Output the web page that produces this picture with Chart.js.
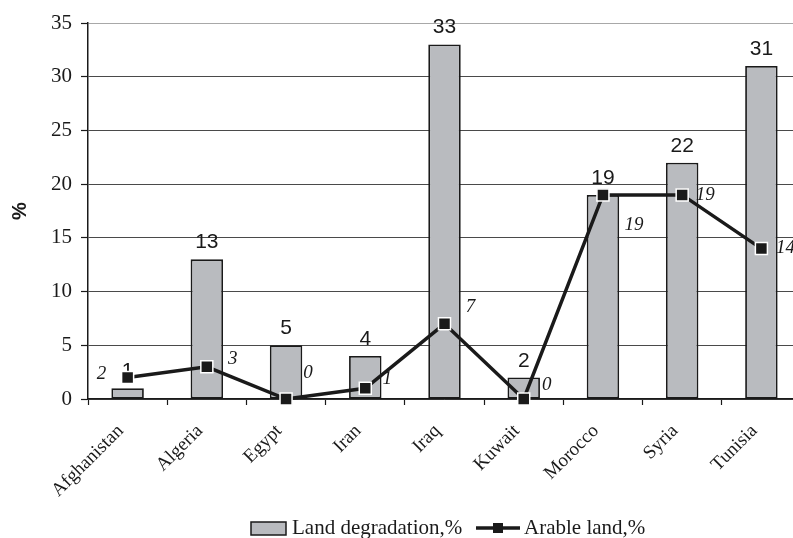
<!DOCTYPE html>
<html>
<head>
<meta charset="utf-8">
<script src="https://cdn.jsdelivr.net/npm/chart.js@4/dist/chart.umd.min.js"></script>
<style>
  html, body { margin: 0; padding: 0; background: #fff; overflow: hidden; }
  #wrap { width: 811px; height: 538px; }
</style>
</head>
<body>
<div id="wrap"><canvas id="c" width="811" height="538"></canvas></div>
<script>
const categories = ['Afghanistan', 'Algeria', 'Egypt', 'Iran', 'Iraq', 'Kuwait', 'Morocco', 'Syria', 'Tunisia'];
const landDegradation = [1, 13, 5, 4, 33, 2, 19, 22, 31];
const arableLand = [2, 3, 0, 1, 7, 0, 19, 19, 14];
const yTicks = [0, 5, 10, 15, 20, 25, 30, 35];
const seriesNames = ['Land degradation,%', 'Arable land,%'];

// label placement offsets (pixels) for the line-series value labels
const lineLabelOffsets = [[-26, -4], [26, -8], [22, -26], [22, -9], [26, -17], [23, -14], [31, 30], [23, 0], [24, -1]];

const SERIF = '"Liberation Serif", "Times New Roman", serif';
const SANS = '"Liberation Sans", Arial, sans-serif';
const BAR_FILL = '#b9bbbf';
const INK = '#1a1a1a';

const labelPlugin = {
  id: 'valueLabels',
  afterDatasetDraw(chart, args) {
    const ds = chart.data.datasets[args.index];
    if (ds.type !== 'bar') return;
    const ctx = chart.ctx;
    ctx.save();
    ctx.font = '21px ' + SANS;
    ctx.fillStyle = INK;
    ctx.textAlign = 'center';
    ctx.textBaseline = 'alphabetic';
    args.meta.data.forEach((el, i) => {
      ctx.fillText(String(ds.data[i]), el.x, el.y - 11);
    });
    ctx.restore();
  },
  afterDatasetsDraw(chart) {
    const ctx = chart.ctx;
    chart.data.datasets.forEach((ds, di) => {
      if (ds.type !== 'line') return;
      const meta = chart.getDatasetMeta(di);
      ctx.save();
      ctx.font = 'italic 19px ' + SERIF;
      ctx.fillStyle = INK;
      ctx.textAlign = 'center';
      ctx.textBaseline = 'middle';
      meta.data.forEach((el, i) => {
        const off = lineLabelOffsets[i];
        ctx.fillText(String(ds.data[i]), el.x + off[0], el.y + off[1]);
      });
      ctx.restore();
    });
  },
  afterDraw(chart) {
    const ctx = chart.ctx;
    const cy = 528;
    ctx.save();
    ctx.fillStyle = BAR_FILL;
    ctx.strokeStyle = INK;
    ctx.lineWidth = 1.5;
    ctx.fillRect(251, 522, 35, 13);
    ctx.strokeRect(251, 522, 35, 13);
    ctx.font = '21px ' + SERIF;
    ctx.fillStyle = INK;
    ctx.textAlign = 'left';
    ctx.textBaseline = 'middle';
    ctx.fillText(seriesNames[0], 292, cy);
    ctx.strokeStyle = INK;
    ctx.lineWidth = 3.5;
    ctx.beginPath();
    ctx.moveTo(476, cy);
    ctx.lineTo(520, cy);
    ctx.stroke();
    ctx.fillStyle = INK;
    ctx.fillRect(493, cy - 5, 10, 10);
    ctx.fillText(seriesNames[1], 524, cy);
    ctx.restore();
  }
};

new Chart(document.getElementById('c'), {
  data: {
    labels: categories,
    datasets: [
      {
        type: 'line',
        label: seriesNames[1],
        data: arableLand,
        order: 0,
        borderColor: INK,
        borderWidth: 3.5,
        pointStyle: 'rect',
        pointRadius: 8.5,
        pointBackgroundColor: INK,
        pointBorderColor: '#ffffff',
        pointBorderWidth: 1.5,
        tension: 0,
        clip: false
      },
      {
        type: 'bar',
        label: seriesNames[0],
        data: landDegradation,
        order: 1,
        backgroundColor: BAR_FILL,
        borderColor: INK,
        borderWidth: 1.8,
        borderSkipped: false,
        barPercentage: 0.41,
        categoryPercentage: 1.0
      }
    ]
  },
  options: {
    responsive: false,
    animation: false,
    devicePixelRatio: 1,
    layout: { padding: { top: 23, right: 0, bottom: 0, left: 0 } },
    plugins: {
      legend: { display: false },
      tooltip: { enabled: false }
    },
    scales: {
      x: {
        offset: true,
        afterFit(scale) { scale.height = 139; },
        grid: {
          offset: true,
          drawOnChartArea: false,
          drawTicks: true,
          tickLength: 6,
          tickColor: INK,
          tickWidth: 1.2
        },
        border: { display: true, color: INK, width: 1.5 },
        ticks: {
          minRotation: 45,
          maxRotation: 45,
          autoSkip: false,
          padding: 15,
          labelOffset: -7,
          color: INK,
          font: { family: SERIF, size: 19 }
        }
      },
      y: {
        min: 0,
        max: 35,
        afterFit(scale) { scale.width = 88; },
        afterBuildTicks(scale) { scale.ticks = yTicks.map(v => ({ value: v })); },
        grid: {
          color: (c) => (c.tick && c.tick.value === 35 ? '#a8a8a8' : '#4a4a4a'),
          lineWidth: 1,
          drawTicks: true,
          tickLength: 7,
          tickColor: INK,
          tickWidth: 1.2
        },
        border: { display: true, color: INK, width: 1.5 },
        ticks: {
          padding: 9,
          color: INK,
          font: { family: SERIF, size: 21 }
        },
        title: {
          display: true,
          text: '%',
          color: INK,
          padding: { top: 8, bottom: 0 },
          font: { family: SANS, size: 20, weight: 'bold' }
        }
      }
    }
  },
  plugins: [labelPlugin]
});
</script>
</body>
</html>
